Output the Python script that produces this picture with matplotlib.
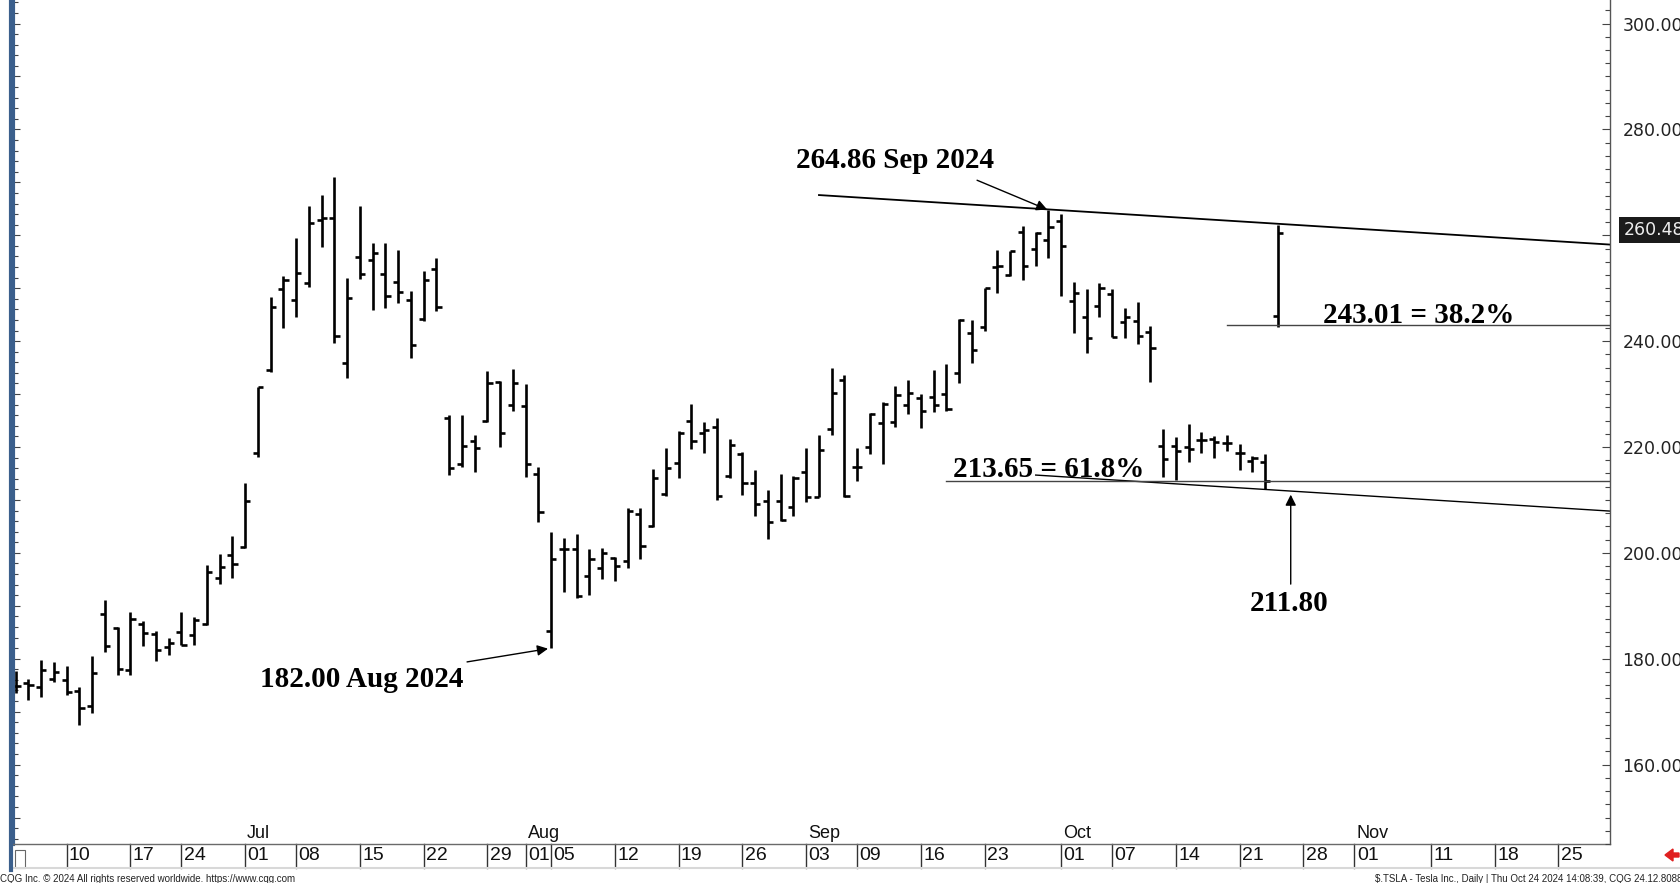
import matplotlib

matplotlib.use("Agg")
import matplotlib.pyplot as plt
import matplotlib.transforms as mtransforms
import numpy as np
import pandas as pd
from matplotlib import font_manager
from matplotlib.lines import Line2D
from matplotlib.patches import FancyArrow, Rectangle
from matplotlib.ticker import MultipleLocator

W, H, DPI = 1680, 883, 100

# trading calendar shown on the x axis (bars sit on trading-day slots)
first_day = "2024-06-04"
last_axis_day = "2024-12-02"
holidays = ["2024-06-19", "2024-07-04", "2024-09-02", "2024-11-28"]

# daily OHLC, Jun 4 .. Oct 24 2024 ($.TSLA)
opens = [174.78, 175.35, 174.60, 176.13, 176.06, 173.92, 171.12, 188.39, 185.80, 177.92,
         186.56, 184.68, 182.30, 184.97, 184.40, 186.54, 195.17, 199.55, 201.02, 218.89,
         234.56, 249.81, 247.71, 251.00, 262.80, 263.30, 235.80, 255.97, 255.31, 252.73,
         251.09, 247.79, 244.21, 253.60, 225.42, 216.80, 221.19, 224.90, 232.25, 227.90,
         227.69, 214.88, 185.22, 200.75, 200.77, 195.70, 197.05, 199.02, 198.47, 207.39,
         205.02, 211.15, 217.07, 224.88, 222.67, 223.82, 214.46, 218.75, 213.25, 209.72,
         209.80, 208.63, 215.26, 210.59, 223.49, 232.60, 216.20, 220.07, 224.55, 224.66,
         228.00, 229.30, 229.45, 230.09, 234.00, 241.52, 242.61, 254.08, 252.54, 260.60,
         257.38, 259.04, 262.67, 247.55, 244.48, 246.69, 249.00, 243.56, 243.82, 241.81,
         220.13, 220.13, 220.01, 221.40, 221.59, 220.71, 218.90, 217.31, 217.13, 244.68]
highs = [177.76, 176.15, 179.73, 179.35, 178.57, 174.75, 180.55, 191.08, 186.00, 188.81,
         187.20, 185.21, 183.95, 188.80, 187.97, 197.76, 199.84, 203.20, 213.23, 231.30,
         248.35, 252.37, 259.44, 265.61, 267.59, 271.00, 251.84, 265.60, 258.62, 258.47,
         257.14, 249.44, 253.21, 255.76, 225.99, 226.00, 222.28, 234.27, 232.41, 234.68,
         231.87, 216.13, 203.88, 202.90, 203.49, 200.70, 200.88, 199.26, 208.49, 208.44,
         215.88, 219.80, 222.98, 228.22, 224.66, 225.41, 221.48, 219.09, 215.66, 211.84,
         214.89, 214.57, 219.90, 222.22, 235.00, 233.60, 219.87, 226.40, 228.47, 231.45,
         232.67, 229.96, 234.57, 235.68, 244.24, 243.99, 250.00, 257.19, 257.05, 261.75,
         260.70, 264.86, 263.98, 251.16, 249.79, 250.96, 249.83, 246.21, 247.43, 242.79,
         223.34, 221.91, 224.26, 222.82, 222.08, 222.28, 220.48, 218.22, 218.72, 261.95]
lows = [173.52, 172.13, 172.73, 175.58, 173.17, 167.41, 169.80, 181.23, 176.92, 177.00,
        182.37, 179.66, 180.69, 182.55, 182.62, 186.36, 194.20, 195.26, 200.85, 218.06,
        234.25, 242.46, 244.57, 250.30, 257.86, 239.65, 233.09, 251.73, 245.80, 246.18,
        247.20, 236.83, 243.75, 245.63, 214.71, 216.23, 215.33, 224.70, 220.00, 226.79,
        214.33, 205.78, 182.00, 192.67, 191.48, 192.04, 195.11, 194.67, 197.06, 198.75,
        204.82, 210.80, 214.09, 219.56, 218.86, 210.03, 214.21, 211.01, 206.94, 202.59,
        205.97, 207.03, 209.64, 210.57, 222.25, 210.51, 213.67, 218.64, 216.80, 223.83,
        226.32, 223.53, 226.55, 226.88, 232.13, 235.92, 241.92, 249.05, 252.28, 251.53,
        254.12, 255.77, 248.53, 241.50, 237.81, 244.58, 240.70, 240.56, 239.51, 232.34,
        214.38, 213.74, 217.12, 218.93, 217.90, 219.23, 215.73, 215.26, 212.11, 242.65]
closes = [174.77, 175.00, 177.94, 177.48, 173.79, 170.66, 177.29, 182.47, 178.01, 187.44,
          184.86, 181.57, 183.01, 182.58, 187.35, 196.37, 197.42, 197.88, 209.86, 231.26,
          246.39, 251.52, 252.94, 262.33, 263.26, 241.03, 248.23, 252.64, 256.56, 248.50,
          249.23, 239.20, 251.51, 246.38, 215.99, 220.25, 219.80, 232.10, 222.62, 232.07,
          216.86, 207.67, 198.88, 200.64, 191.76, 198.84, 200.00, 197.49, 207.83, 201.38,
          214.14, 216.12, 222.72, 221.10, 223.27, 210.66, 220.32, 213.21, 209.21, 205.75,
          206.28, 214.11, 210.60, 219.41, 230.17, 210.73, 216.27, 226.17, 228.13, 229.81,
          230.29, 226.78, 227.87, 227.20, 243.92, 238.25, 250.00, 254.27, 257.02, 254.22,
          260.46, 261.63, 258.02, 249.02, 240.66, 250.08, 240.83, 244.50, 241.05, 238.77,
          217.80, 219.16, 219.57, 221.33, 220.89, 220.70, 218.85, 217.97, 213.65, 260.48]

tick_days = ["2024-06-10", "2024-06-17", "2024-06-24", "2024-07-01", "2024-07-08",
             "2024-07-15", "2024-07-22", "2024-07-29", "2024-08-01", "2024-08-05",
             "2024-08-12", "2024-08-19", "2024-08-26", "2024-09-03", "2024-09-09",
             "2024-09-16", "2024-09-23", "2024-10-01", "2024-10-07", "2024-10-14",
             "2024-10-21", "2024-10-28", "2024-11-01", "2024-11-11", "2024-11-18",
             "2024-11-25"]
month_days = ["2024-07-01", "2024-08-01", "2024-09-03", "2024-10-01", "2024-11-01"]
month_names = ["Jul", "Aug", "Sep", "Oct", "Nov"]

price_ticks = [160, 180, 200, 220, 240, 260, 280, 300]
last_price = 260.48

# drawn studies
upper_trend_days = ["2024-09-04", "2024-12-02"]
upper_trend_prices = [267.6, 258.25]
lower_trend_days = ["2024-09-27", "2024-12-02"]
lower_trend_prices = [214.7, 207.9]
fib_382, fib_382_from = 243.01, "2024-10-18"
fib_618, fib_618_from = 213.65, "2024-09-18"
high_label, low_label, trend_label = "264.86 Sep 2024", "182.00 Aug 2024", "211.80"

BLUE = "#3b5f8c"


def pick_narrow() -> str:
    names = {f.name for f in font_manager.fontManager.ttflist}
    return "Liberation Sans Narrow" if "Liberation Sans Narrow" in names else "Liberation Sans"


def main() -> None:
    trading = pd.bdate_range(first_day, last_axis_day, freq="C", holidays=holidays)
    pos = {d.strftime("%Y-%m-%d"): i for i, d in enumerate(trading)}
    narrow = pick_narrow()
    serif = ["Liberation Serif", "DejaVu Serif"]

    fig = plt.figure(figsize=(W / DPI, H / DPI), dpi=DPI)
    ax = fig.add_axes([13 / W, 39 / H, 1597 / W, 844 / H])
    ax.set_xlim(-0.21, 125.04)
    ax.set_ylim(145.0, 304.45)

    # OHLC bars
    x = np.arange(len(closes))
    ax.vlines(x, lows, highs, color="black", lw=1.9, capstyle="butt")
    ax.hlines(opens, x - 0.4, x, color="black", lw=1.9)
    ax.hlines(closes, x, x + 0.4, color="black", lw=1.9)

    # trend lines and retracement levels
    ax.plot([pos[d] for d in upper_trend_days], upper_trend_prices, color="black", lw=1.3)
    ax.plot([pos[d] for d in lower_trend_days], lower_trend_prices, color="black", lw=1.0)
    ax.plot([pos[fib_382_from], 126], [fib_382, fib_382], color="#444444", lw=1.0)
    ax.plot([pos[fib_618_from], 126], [fib_618, fib_618], color="#444444", lw=1.0)

    txt = dict(family=serif, fontsize=21, fontweight="bold", color="black")
    arrow = dict(arrowstyle="-|>", color="black", lw=1.0, mutation_scale=16, shrinkA=0, shrinkB=0)
    ax.text(61.2, 272.7, high_label, ha="left", va="baseline", **txt)
    ax.annotate("", xy=(80.9, 264.86), xytext=(75.4, 270.4), arrowprops=arrow)
    ax.text(19.2, 174.7, low_label, ha="left", va="baseline", **txt)
    ax.annotate("", xy=(41.75, 181.9), xytext=(35.4, 179.4), arrowprops=arrow)
    ax.text(73.5, 214.35, f"{fib_618:.2f} = 61.8%", ha="left", va="baseline", **txt)
    ax.text(102.5, 243.4, f"{fib_382:.2f} = 38.2%", ha="left", va="baseline", **txt)
    ax.text(96.8, 189.0, trend_label, ha="left", va="baseline", **txt)
    ax.annotate("", xy=(100.0, 211.0), xytext=(100.0, 194.1), arrowprops=arrow)

    # spines and price scales
    for side in ("top", "right"):
        ax.spines[side].set_visible(False)
    ax.spines["left"].set_color(BLUE)
    ax.spines["left"].set_linewidth(3.0)
    ax.spines["bottom"].set_color("#6a6a6a")
    ax.spines["bottom"].set_linewidth(1.0)
    ax.set_xticks([])
    ax.yaxis.set_major_locator(MultipleLocator(10))
    ax.yaxis.set_minor_locator(MultipleLocator(2))
    ax.tick_params(axis="y", which="major", direction="in", length=5, width=0.8, color="#444444",
                   labelleft=False)
    ax.tick_params(axis="y", which="minor", direction="in", length=3.5, width=0.8, color="#444444")

    ax2 = ax.twinx()
    ax2.set_ylim(ax.get_ylim())
    for side in ("top", "left", "bottom"):
        ax2.spines[side].set_visible(False)
    ax2.spines["right"].set_color("#555555")
    ax2.spines["right"].set_linewidth(1.0)
    # the 260 label sits under the last-price box, so it is left blank
    tick_text = ["" if abs(p - last_price) < 5 else f"{p:.2f}" for p in price_ticks]
    ax2.set_yticks(price_ticks, tick_text)
    ax2.yaxis.set_minor_locator(MultipleLocator(2.5))
    ax2.tick_params(axis="y", which="major", direction="in", length=6, width=0.8, color="#444444",
                    pad=9, labelsize=12.5, labelcolor="#222222")
    ax2.tick_params(axis="y", which="minor", direction="in", length=3.5, width=0.8, color="#444444")
    tr_r = mtransforms.blended_transform_factory(ax2.transAxes, ax2.transData)
    ax2.text(1.0085, last_price + 0.5, f"{last_price:.2f}", transform=tr_r, ha="left", va="center",
             fontsize=12.5, color="#eeeeee", clip_on=False,
             bbox=dict(boxstyle="square,pad=0.25", fc="#1b1b1b", ec="none"))

    # date strip
    tr = mtransforms.blended_transform_factory(ax.transData, ax.transAxes)
    row = 24 / 844
    for d in tick_days:
        i = pos[d]
        ax.plot([i, i], [0, -row], transform=tr, color="#333333", lw=1.0, clip_on=False)
        ax.text(i + 0.18, -row / 2, d[-2:], transform=tr, ha="left", va="center",
                fontsize=14, family=narrow, color="#111111", clip_on=False)
    for d, name in zip(month_days, month_names):
        ax.text(pos[d] + 0.15, 10 / 844, name, transform=tr, ha="left", va="center",
                fontsize=13, family=narrow, color="#111111")

    fig.add_artist(Line2D([13 / W, 1], [1 - 868 / H, 1 - 868 / H], color="#d8d8d8", lw=1.5))
    fig.add_artist(Line2D([11 / W, 11 / W], [1 - 870 / H, 1], color=BLUE, lw=3.0))
    fig.add_artist(Rectangle((15 / W, 1 - 868 / H), 10 / W, 18 / H, fill=False,
                             ec="#666666", lw=0.8))
    fig.text(0 / W, 1 - 879 / H, "CQG Inc. \u00a9 2024 All rights reserved worldwide. https://www.cqg.com",
             ha="left", va="center", fontsize=7, family=narrow, color="#222222")
    fig.text(1375 / W, 1 - 879 / H,
             "$.TSLA - Tesla Inc., Daily | Thu Oct 24 2024 14:08:39, CQG 24.12.8088",
             ha="left", va="center", fontsize=7, family=narrow, color="#222222")
    fig.add_artist(FancyArrow(1679 / W, 1 - 855 / H, -14 / W, 0, width=4 / H,
                              head_width=12 / H, head_length=8 / W,
                              length_includes_head=True, color="#e02020"))

    fig.savefig("out.png", dpi=DPI, facecolor="white")
    plt.close(fig)


if __name__ == "__main__":
    main()
